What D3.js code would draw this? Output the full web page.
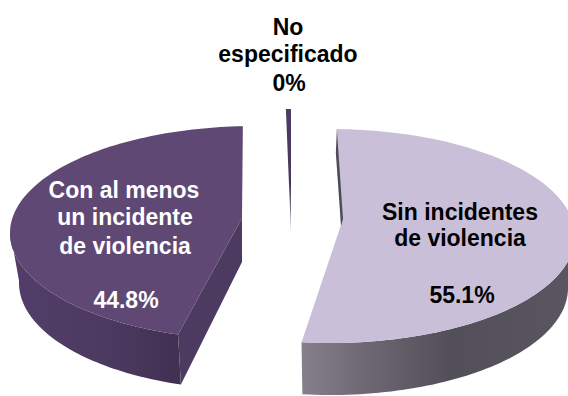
<!DOCTYPE html>
<html lang="es">
<head>
<meta charset="utf-8">
<title>Incidentes de violencia</title>
<script src="https://cdn.jsdelivr.net/npm/d3@7"></script>
<style>
  html, body { margin: 0; padding: 0; background: #fff; }
  svg { display: block; }
  text { font-family: "Liberation Sans", Arial, sans-serif; font-weight: 700; font-size: 23px; text-anchor: middle; }
</style>
</head>
<body>
<svg id="chart" width="568" height="396"></svg>
<script>
// Survey shares, in pie order starting at twelve o'clock
const categories = ["Sin incidentes de violencia", "Con al menos un incidente de violencia", "No especificado"];
const shares = [55.1, 44.8, 0.1];
const valueLabels = ["55.1%", "44.8%", "0%"];

// Tilted-disc geometry of each exploded wedge (pixels and degrees)
const wedgeGeometry = [
  { hub: [341, 225], centre: [330, 236], rx: 245, ry: 107, rimStart: 1.6, gain: 0.933, depth: 52, baseRx: 238 },
  { hub: [242, 218], centre: [255, 233], rx: 245, ry: 107, rimStart: 198.3, gain: 0.985, depth: 50, baseRx: 236 },
  { hub: [291, 233], centre: [291, 233], rx: 245, ry: 124, rimStart: 358.8, gain: 3.33, depth: 0, baseRx: 245 }
];

const faceColours = ["#c9bfd9", "#5f4874", "#4f3b66"];

// Label lines with anchor x and baseline y
const labelBlocks = [
  { fill: "#000", lines: [["Sin incidentes", 460, 220], ["de violencia", 460, 246], [valueLabels[0], 462, 303]] },
  { fill: "#fff", lines: [["Con al menos", 124, 198], ["un incidente", 125, 225], ["de violencia", 125, 254], [valueLabels[1], 126, 308]] },
  { fill: "#000", lines: [["No", 288, 35], ["especificado", 288, 62], [valueLabels[2], 289, 91]] }
];

const svg = d3.select("#chart");
const defs = svg.append("defs");

function horizontalGradient(id, stops) {
  const g = defs.append("linearGradient").attr("id", id)
    .attr("gradientUnits", "userSpaceOnUse")
    .attr("x1", stops[0][0]).attr("x2", stops[stops.length - 1][0])
    .attr("y1", 0).attr("y2", 0);
  stops.forEach(s => g.append("stop")
    .attr("offset", (s[0] - stops[0][0]) / (stops[stops.length - 1][0] - stops[0][0]))
    .attr("stop-color", s[1]));
}
horizontalGradient("wallRight", [[301, "#85808c"], [360, "#6f6a76"], [450, "#524f58"], [568, "#5a5660"]]);
horizontalGradient("wallLeft", [[12, "#523e69"], [100, "#4d3a61"], [183, "#413052"]]);

const thin = defs.append("linearGradient").attr("id", "sliverFade")
  .attr("x1", 0).attr("x2", 0).attr("y1", 0).attr("y2", 1);
thin.append("stop").attr("offset", 0).attr("stop-color", "#4f3b66");
thin.append("stop").attr("offset", 0.6).attr("stop-color", "#463758");
thin.append("stop").attr("offset", 1).attr("stop-color", "#b5b2ba");

const toDeg = 180 / Math.PI, toRad = Math.PI / 180;
const slices = d3.pie().sort(null).value(d => d)(shares);
const line = d3.line();

// Position on the disc rim for a rim angle in degrees
const rimPoint = (g, t, rx = g.rx, dy = 0) => [
  g.centre[0] + rx * Math.sin(t * toRad),
  g.centre[1] + dy - g.ry * Math.cos(t * toRad)
];

slices.forEach((slice, i) => {
  const g = wedgeGeometry[i];
  const sweep = (slice.endAngle - slice.startAngle) * toDeg * g.gain;
  const t0 = g.rimStart, t1 = t0 + sweep;
  const rimAngles = d3.range(t0, t1, Math.max(sweep / 120, 0.02)).concat([t1]);
  const face = [g.hub, ...rimAngles.map(t => rimPoint(g, t))];

  if (g.depth > 0) {
    // Side wall following the front of the rim
    const front = i === 0
      ? rimAngles.filter(t => t >= 90)
      : rimAngles.filter(t => t <= 272);
    const wall = [
      ...front.map(t => rimPoint(g, t)),
      ...front.slice().reverse().map(t => rimPoint(g, t, g.baseRx, g.depth))
    ];
    svg.append("path").attr("d", line(wall) + "Z")
      .attr("fill", i === 0 ? "url(#wallRight)" : "url(#wallLeft)");
  }

  if (i === 1) {
    // Cut face running from the hub to the front corner
    const tip = rimPoint(g, t0);
    const tipBase = rimPoint(g, t0, g.baseRx, g.depth);
    const cut = [g.hub, tip, tipBase, [g.hub[0], g.hub[1] + g.depth - 6]];
    svg.append("path").attr("d", line(cut) + "Z").attr("fill", "#4c3a60");
  }

  svg.append("path").attr("d", line(face) + "Z")
    .attr("fill", i === 2 ? "url(#sliverFade)" : faceColours[i]);

  if (i === 0) {
    // Shaded sliver of the rear cut beside the hub
    const top = rimPoint(g, t0);
    const sliver = [top, [g.hub[0] + 2, g.hub[1] - 6], [g.hub[0], g.hub[1] + 1], [top[0] - 1, top[1] + 24]];
    svg.append("path").attr("d", line(sliver) + "Z").attr("fill", "#4e4a58");
  }
});

labelBlocks.forEach(block => {
  block.lines.forEach(([txt, x, y]) => {
    svg.append("text").attr("x", x).attr("y", y).attr("fill", block.fill).text(txt);
  });
});
</script>
</body>
</html>
